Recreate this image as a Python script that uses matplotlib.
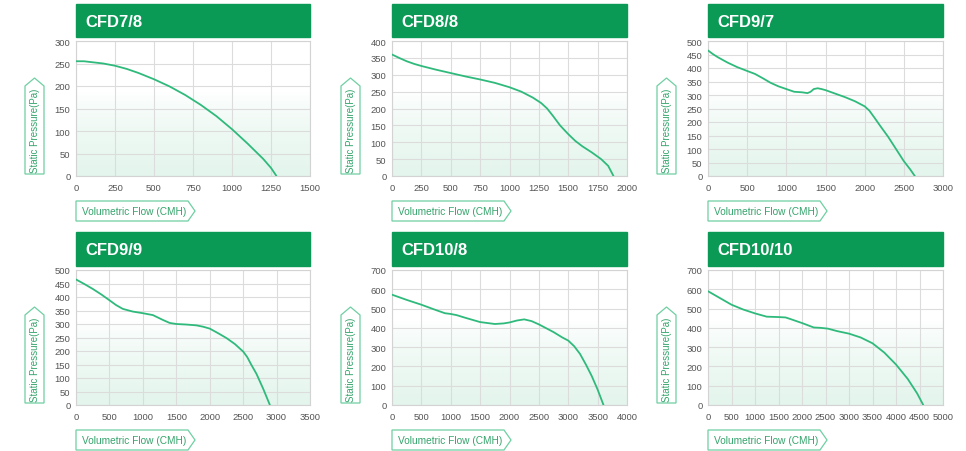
import numpy as np
import matplotlib
matplotlib.use('Agg')
import matplotlib.pyplot as plt
from matplotlib.patches import Polygon, Rectangle

plt.rcParams['font.family'] = ['Liberation Sans', 'DejaVu Sans']

# fan curves: flow (CMH) and static pressure (Pa)
titles = ['CFD7/8', 'CFD8/8', 'CFD9/7', 'CFD9/9', 'CFD10/8', 'CFD10/10']

flow_78 = [0, 50, 100, 175, 250, 325, 400, 500, 600, 700, 800, 900, 1000, 1100, 1200, 1250, 1285]
pres_78 = [255, 255, 253, 250, 245, 238, 229, 215, 199, 180, 158, 133, 104, 72, 38, 18, 0]

flow_88 = [0, 60, 125, 190, 250, 375, 500, 625, 750, 875, 1000, 1100, 1200, 1270, 1320, 1370, 1430, 1500, 1560, 1620, 1700, 1780, 1840, 1885]
pres_88 = [360, 350, 340, 332, 326, 315, 305, 295, 286, 276, 263, 250, 232, 216, 200, 178, 150, 124, 104, 88, 70, 50, 30, 0]

flow_97 = [0, 60, 125, 250, 375, 500, 600, 700, 800, 900, 1000, 1100, 1200, 1270, 1310, 1350, 1400, 1450, 1500, 1625, 1750, 1875, 2000, 2060, 2120, 2200, 2300, 2400, 2500, 2580, 2640]
pres_97 = [465, 452, 440, 420, 403, 389, 378, 362, 345, 332, 322, 312, 310, 307, 312, 322, 325, 322, 318, 305, 292, 277, 258, 242, 218, 185, 145, 100, 55, 25, 0]

flow_99 = [0, 125, 250, 375, 500, 600, 700, 850, 1000, 1150, 1300, 1400, 1500, 1650, 1800, 1900, 2000, 2125, 2250, 2375, 2500, 2560, 2620, 2700, 2800, 2900]
pres_99 = [465, 448, 430, 410, 388, 370, 356, 346, 340, 333, 315, 304, 300, 298, 295, 290, 283, 266, 248, 226, 198, 178, 150, 115, 60, 0]

flow_108 = [0, 250, 500, 750, 900, 1000, 1100, 1250, 1500, 1750, 1900, 2000, 2125, 2250, 2375, 2500, 2750, 2900, 3000, 3100, 3200, 3300, 3400, 3500, 3600]
pres_108 = [572, 545, 520, 492, 476, 472, 466, 452, 430, 420, 423, 428, 438, 444, 435, 418, 378, 350, 334, 305, 265, 210, 150, 80, 0]

flow_1010 = [0, 250, 500, 750, 1000, 1250, 1500, 1650, 1750, 2000, 2250, 2400, 2550, 2750, 3000, 3250, 3500, 3750, 4000, 4250, 4450, 4580]
pres_1010 = [590, 555, 520, 495, 475, 458, 456, 454, 446, 425, 402, 400, 396, 383, 370, 350, 320, 272, 210, 135, 60, 0]

flows = [flow_78, flow_88, flow_97, flow_99, flow_108, flow_1010]
pressures = [pres_78, pres_88, pres_97, pres_99, pres_108, pres_1010]
x_ticks = [np.arange(0, 1501, 250), np.arange(0, 2001, 250), np.arange(0, 3001, 500),
           np.arange(0, 3501, 500), np.arange(0, 4001, 500), np.arange(0, 5001, 500)]
y_ticks = [np.arange(0, 301, 50), np.arange(0, 401, 50), np.arange(0, 501, 50),
           np.arange(0, 501, 50), np.arange(0, 701, 100), np.arange(0, 701, 100)]

W, H = 966, 452
fig = plt.figure(figsize=(W / 100, H / 100), dpi=100)

header_green = '#0b9a56'
line_green = '#2fba7c'
box_green = '#6fcfa2'
text_green = '#35a46c'

col_x = [(76, 310), (392, 627), (708, 943)]
row_y = [(42, 177), (271, 406)]
head_y = [(5, 38), (233, 267)]

deco = fig.add_axes([0, 0, 1, 1], zorder=5)
deco.set_xlim(0, W)
deco.set_ylim(H, 0)
deco.axis('off')
deco.patch.set_visible(False)

# soft mint gradient on the lower part of the plot area
grad = np.zeros((100, 1, 4))
frac = np.linspace(1, 0, 100)
alpha = np.clip((0.62 - frac) / 0.62, 0, 1) ** 0.7 * 0.9
grad[:, 0, 0] = 0.88
grad[:, 0, 1] = 0.96
grad[:, 0, 2] = 0.92
grad[:, 0, 3] = alpha

for i in range(6):
    r, c = divmod(i, 3)
    x0, x1 = col_x[c]
    y0, y1 = row_y[r]
    ax = fig.add_axes([x0 / W, 1 - y1 / H, (x1 - x0) / W, (y1 - y0) / H])
    ax.imshow(grad, extent=[0, 1, 0, 1], transform=ax.transAxes, aspect='auto', zorder=0)
    ax.plot(flows[i], pressures[i], color=line_green, lw=1.3, zorder=3,
            solid_joinstyle='round', solid_capstyle='round')
    ax.set_xlim(x_ticks[i][0], x_ticks[i][-1])
    ax.set_ylim(y_ticks[i][0], y_ticks[i][-1])
    ax.set_xticks(x_ticks[i])
    ax.set_yticks(y_ticks[i])
    ax.grid(True, color='#dcdcdc', lw=0.8)
    ax.set_axisbelow(True)
    ax.tick_params(length=0, labelsize=6.8, labelcolor='#555555')
    ax.tick_params(axis='x', pad=5)
    ax.tick_params(axis='y', pad=4)
    for s in ax.spines.values():
        s.set_color('#d3d3d3')
        s.set_linewidth(0.8)

    # green title bar
    hy0, hy1 = head_y[r]
    deco.add_patch(Rectangle((x0, hy0), x1 - x0, hy1 - hy0, color=header_green))
    deco.text(x0 + 9, (hy0 + hy1) / 2 + 1, titles[i], color='white', fontsize=12,
              fontweight='bold', va='center', ha='left')

    # y label arrow box
    bl, br = x0 - 51, x0 - 32
    bb, bt = y1 - 2, y1 - 98
    pts = [(bl, bb), (br, bb), (br, bt + 8), ((bl + br) / 2, bt), (bl, bt + 8)]
    deco.add_patch(Polygon(pts, closed=True, fill=False, edgecolor=box_green, lw=0.9))
    deco.text((bl + br) / 2 + 0.5, (bb + bt + 8) / 2, 'Static Pressure(Pa)', rotation=90,
              color=text_green, fontsize=7, ha='center', va='center')

    # x label arrow box
    xl, xr = x0, x0 + 112
    xt, xb = y1 + 25, y1 + 45
    pts = [(xl, xt), (xr, xt), (xr + 7, (xt + xb) / 2), (xr, xb), (xl, xb)]
    deco.add_patch(Polygon(pts, closed=True, fill=False, edgecolor=box_green, lw=0.9))
    deco.text(xl + 6, (xt + xb) / 2 + 0.5, 'Volumetric Flow (CMH)', color=text_green,
              fontsize=7.3, ha='left', va='center')

fig.savefig('out.png', dpi=100)
